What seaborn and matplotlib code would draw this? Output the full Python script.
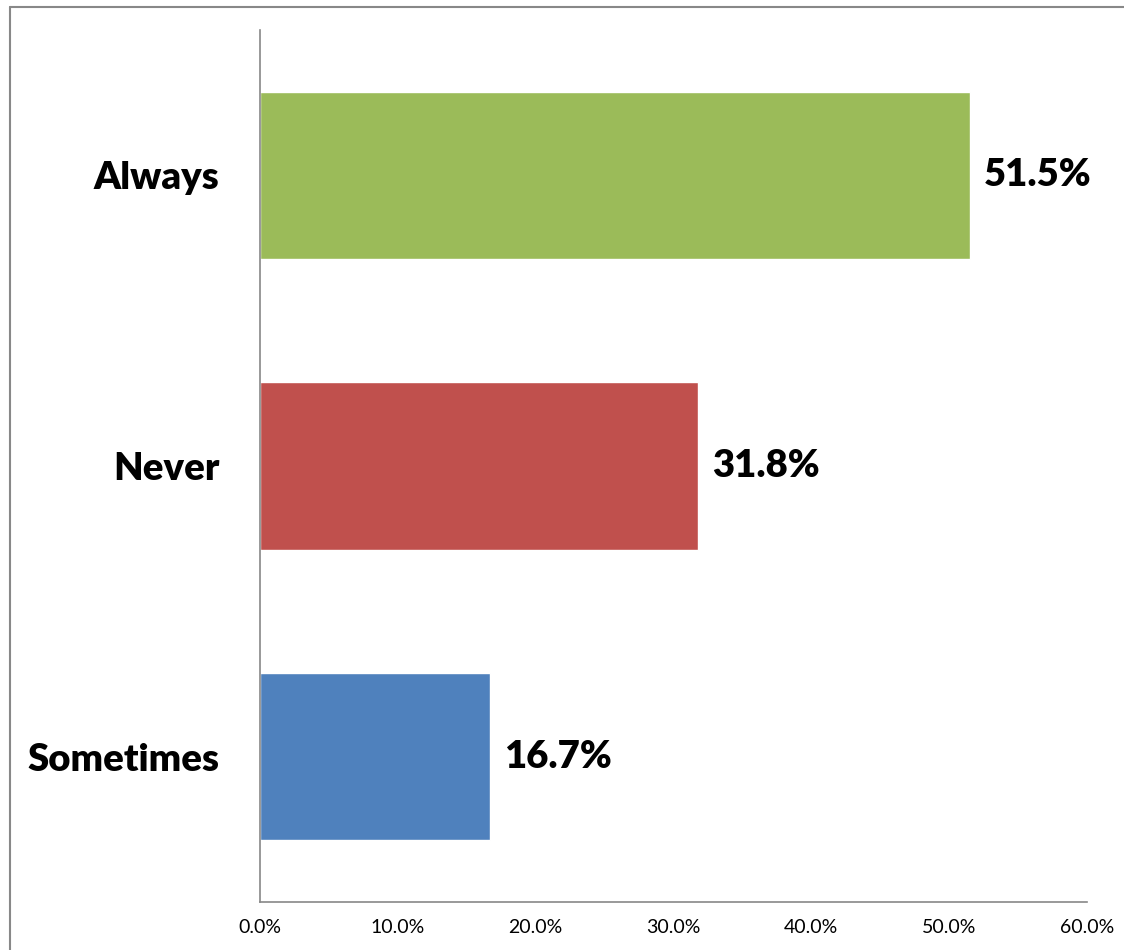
import matplotlib
matplotlib.use('Agg')
import matplotlib.pyplot as plt
from matplotlib.lines import Line2D
from matplotlib.ticker import PercentFormatter
import seaborn as sns
import pandas as pd

# data
categories = ['Always', 'Never', 'Sometimes']
shares = [51.5, 31.8, 16.7]
colors = ['#9BBB59', '#C0504D', '#4F81BD']
xticks = [0, 10, 20, 30, 40, 50, 60]

sns.set_style('white')
plt.rcParams['font.family'] = ['Lato', 'DejaVu Sans']
plt.rcParams['text.color'] = 'black'
plt.rcParams['xtick.color'] = 'black'
plt.rcParams['ytick.color'] = 'black'

df = pd.DataFrame({'category': categories, 'share': shares})

fig = plt.figure(figsize=(11.24, 9.5), dpi=100)
ax = fig.add_axes([260 / 1124, 48 / 950, 827 / 1124, 872 / 950])

sns.barplot(data=df, x='share', y='category', hue='category',
            palette=colors, orient='h', width=0.575, saturation=1,
            legend=False, ax=ax)

ax.set_xlim(0, 60)
ax.set_ylim(2.5, -0.5)
ax.set_xticks(xticks)
ax.xaxis.set_major_formatter(PercentFormatter(decimals=1))
ax.set_xlabel('')
ax.set_ylabel('')

for s in ['top', 'right']:
    ax.spines[s].set_visible(False)
for s in ['left', 'bottom']:
    ax.spines[s].set_color('#888888')
    ax.spines[s].set_linewidth(1.2)

ax.tick_params(axis='x', length=0, pad=12, labelsize=14, labelcolor='black')
ax.tick_params(axis='y', length=0, pad=29, labelcolor='black')
for lbl in ax.get_yticklabels():
    lbl.set_fontsize(27.5)
    lbl.set_fontweight('heavy')

for c in ax.containers:
    ax.bar_label(c, labels=['{:.1f}%'.format(v) for v in c.datavalues],
                 padding=10, fontsize=27.5, fontweight='heavy', color='black')

# outer chart frame (left and top edges visible in the screenshot)
fig.add_artist(Line2D([9.5 / 1124, 9.5 / 1124], [0, 1 - 6.5 / 950],
                      transform=fig.transFigure, color='#888888', lw=1.5))
fig.add_artist(Line2D([9.5 / 1124, 1], [1 - 6.5 / 950, 1 - 6.5 / 950],
                      transform=fig.transFigure, color='#888888', lw=1.5))

fig.savefig('out.png', dpi=100, facecolor='white')
